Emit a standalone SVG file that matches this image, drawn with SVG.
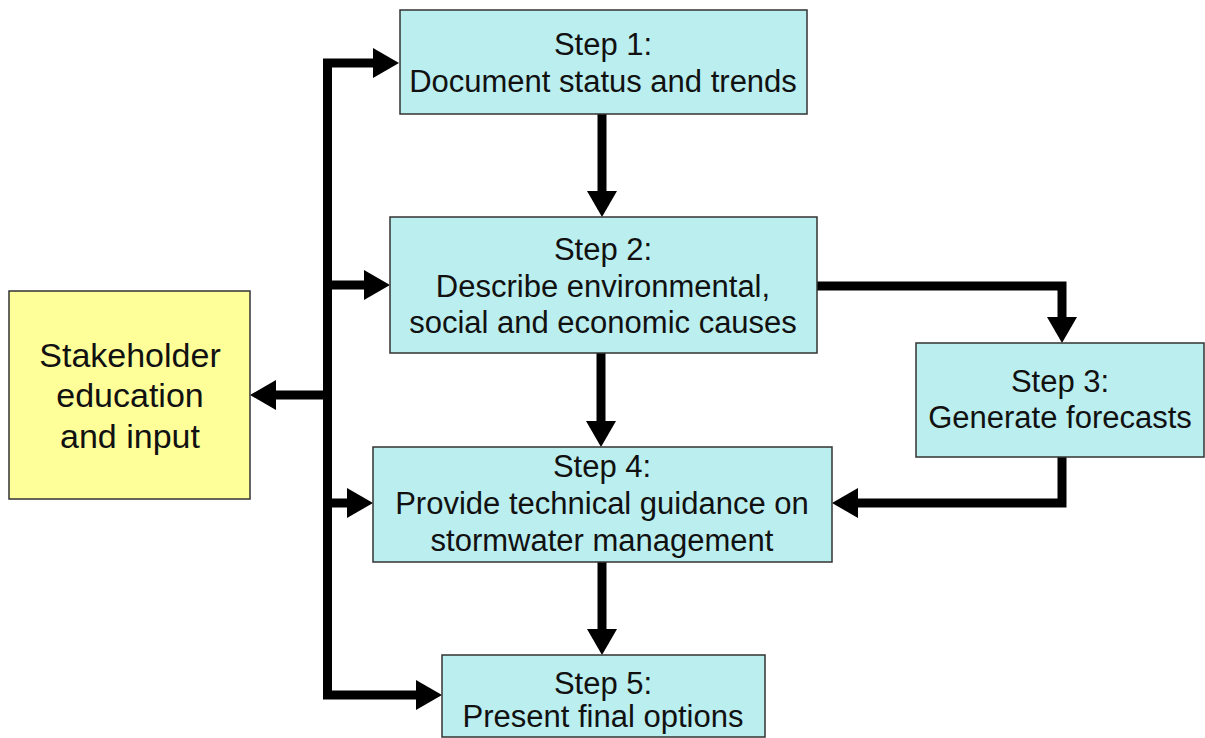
<svg xmlns="http://www.w3.org/2000/svg" width="1205" height="738" viewBox="0 0 1205 738">
<style>
.box{fill:#BBEEEE;stroke:#333;stroke-width:1.5}
.yel{fill:#FFFF99;stroke:#333;stroke-width:1.5}
text{font-family:"Liberation Sans",Arial,sans-serif;font-size:31px;fill:#111;text-anchor:middle}
.big{font-size:34px}
.c{fill:none;stroke:#000;stroke-width:9;stroke-linejoin:miter}
</style>
<defs>
<marker id="ah" markerUnits="userSpaceOnUse" markerWidth="28" markerHeight="30" refX="6" refY="15" orient="auto-start-reverse" viewBox="0 0 28 30">
<path d="M0,0 L26,15 L0,30 z" fill="#000"/>
</marker>
</defs>
<rect width="1205" height="738" fill="#fff"/>
<g id="connectors">
<path class="c" d="M379,63 H327.5 V695 H422" marker-start="url(#ah)" marker-end="url(#ah)"/>
<path class="c" d="M327.5,285 H370" marker-end="url(#ah)"/>
<path class="c" d="M327.5,503 H353" marker-end="url(#ah)"/>
<path class="c" d="M327.5,395 H270" marker-end="url(#ah)"/>
<path class="c" d="M602,114 V197" marker-end="url(#ah)"/>
<path class="c" d="M601,353 V427" marker-end="url(#ah)"/>
<path class="c" d="M602,562 V635" marker-end="url(#ah)"/>
<path class="c" d="M817,286 H1062 V323" marker-end="url(#ah)"/>
<path class="c" d="M1062,457 V503 H852" marker-end="url(#ah)"/>
</g>
<g id="stakeholder">
<rect class="yel" x="9" y="291" width="241" height="208"/>
<text class="big" x="130" y="367">Stakeholder</text>
<text class="big" x="130" y="407">education</text>
<text class="big" x="130" y="448">and input</text>
</g>
<g id="step1">
<rect class="box" x="400" y="10" width="407" height="104"/>
<text x="603" y="55">Step 1:</text>
<text x="603" y="92">Document status and trends</text>
</g>
<g id="step2">
<rect class="box" x="390" y="217" width="427" height="136"/>
<text x="603" y="260">Step 2:</text>
<text x="603" y="297">Describe environmental,</text>
<text x="603" y="333">social and economic causes</text>
</g>
<g id="step3">
<rect class="box" x="916" y="343" width="288" height="114"/>
<text x="1060" y="392">Step 3:</text>
<text x="1060" y="428">Generate forecasts</text>
</g>
<g id="step4">
<rect class="box" x="373" y="447" width="459" height="115"/>
<text x="602" y="477">Step 4:</text>
<text x="602" y="514">Provide technical guidance on</text>
<text x="602" y="551">stormwater management</text>
</g>
<g id="step5">
<rect class="box" x="442" y="655" width="323" height="82"/>
<text x="603" y="694">Step 5:</text>
<text x="603" y="727">Present final options</text>
</g>
</svg>
